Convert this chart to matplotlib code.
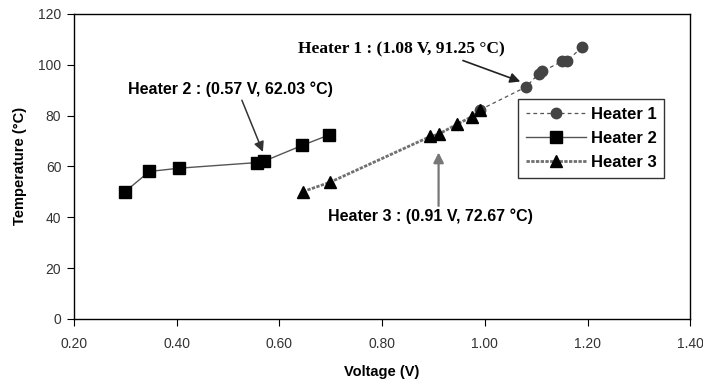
import matplotlib.pyplot as plt

plt.rcParams['font.family'] = ['Liberation Sans', 'DejaVu Sans']

# Heater 1 (dashed, circles)
h1_v = [0.991, 1.08, 1.105, 1.112, 1.15, 1.16, 1.19]
h1_t = [82.3, 91.25, 96.5, 97.4, 101.3, 101.6, 107.0]
# Heater 2 (solid, squares)
h2_v = [0.30, 0.347, 0.405, 0.556, 0.57, 0.645, 0.697]
h2_t = [50.1, 58.0, 59.3, 61.5, 62.03, 68.3, 72.4]
# Heater 3 (gray hatched, triangles)
h3_v = [0.646, 0.698, 0.894, 0.91, 0.946, 0.975, 0.991]
h3_t = [50.1, 53.7, 71.8, 72.67, 76.6, 79.6, 82.3]

x_ticks = [0.20, 0.40, 0.60, 0.80, 1.00, 1.20, 1.40]
y_ticks = [0, 20, 40, 60, 80, 100, 120]

fig = plt.figure(figsize=(7.03, 3.87), dpi=100)
ax = fig.add_axes([0.105, 0.176, 0.877, 0.788])

ax.plot(h1_v, h1_t, linestyle=(0, (3, 2.5)), color='#555555', linewidth=0.9,
        marker='o', markersize=7.5, markerfacecolor='#444444', markeredgecolor='#444444',
        label='Heater 1', zorder=2)
ax.plot(h2_v, h2_t, linestyle='-', color='#555555', linewidth=1.0,
        marker='s', markersize=8.5, markerfacecolor='black', markeredgecolor='black',
        label='Heater 2', zorder=3)
ax.plot(h3_v, h3_t, linestyle=(0, (1.2, 0.5)), color='#707070', linewidth=2.0,
        marker='^', markersize=9, markerfacecolor='black', markeredgecolor='black',
        label='Heater 3', zorder=3)

ax.set_xlim(0.2, 1.4)
ax.set_ylim(0, 120)
ax.set_xticks(x_ticks)
ax.set_xticklabels(['%.2f' % v for v in x_ticks])
ax.set_yticks(y_ticks)
ax.tick_params(axis='both', direction='out', length=5, labelsize=10, labelcolor='#333333')
ax.tick_params(axis='x', pad=8)
ax.tick_params(axis='y', pad=4)
for s in ax.spines.values():
    s.set_linewidth(1.0)

ax.set_xlabel('Voltage (V)', fontsize=10.5, fontweight='bold', labelpad=10)
ax.set_ylabel('Temperature (°C)', fontsize=10.5, fontweight='bold', labelpad=8)

ax.annotate('Heater 1 : (1.08 V, 91.25 °C)', xy=(1.069, 93.4), xytext=(0.838, 105.9),
            fontsize=12.5, fontweight='bold', fontfamily='Liberation Serif', ha='center', va='center',
            arrowprops=dict(arrowstyle='-|>', color='#222222', lw=1.2, mutation_scale=15,
                            shrinkA=0, shrinkB=0, relpos=(0.76, 0.0)))
ax.annotate('Heater 2 : (0.57 V, 62.03 °C)', xy=(0.568, 65.7), xytext=(0.505, 90.2),
            fontsize=11.5, fontweight='bold', ha='center', va='center',
            arrowprops=dict(arrowstyle='-|>', color='#333333', lw=1.1, mutation_scale=15,
                            shrinkA=0, shrinkB=0, relpos=(0.55, 0.0)))
ax.annotate('Heater 3 : (0.91 V, 72.67 °C)', xy=(0.91, 65.5), xytext=(0.894, 40.3),
            fontsize=11.5, fontweight='bold', ha='center', va='center',
            arrowprops=dict(arrowstyle='-|>', color='#777777', lw=1.6, mutation_scale=15,
                            shrinkA=0, shrinkB=0, relpos=(0.54, 1.0)))

leg = ax.legend(loc='upper left', bbox_to_anchor=(0.721, 0.72),
                prop={'weight': 'bold', 'size': 12}, frameon=True, fancybox=False,
                edgecolor='black', handlelength=3.6, borderpad=0.45, labelspacing=0.55,
                handletextpad=0.3, borderaxespad=0)
leg.get_frame().set_linewidth(1.0)

fig.savefig('out.png', dpi=100)
